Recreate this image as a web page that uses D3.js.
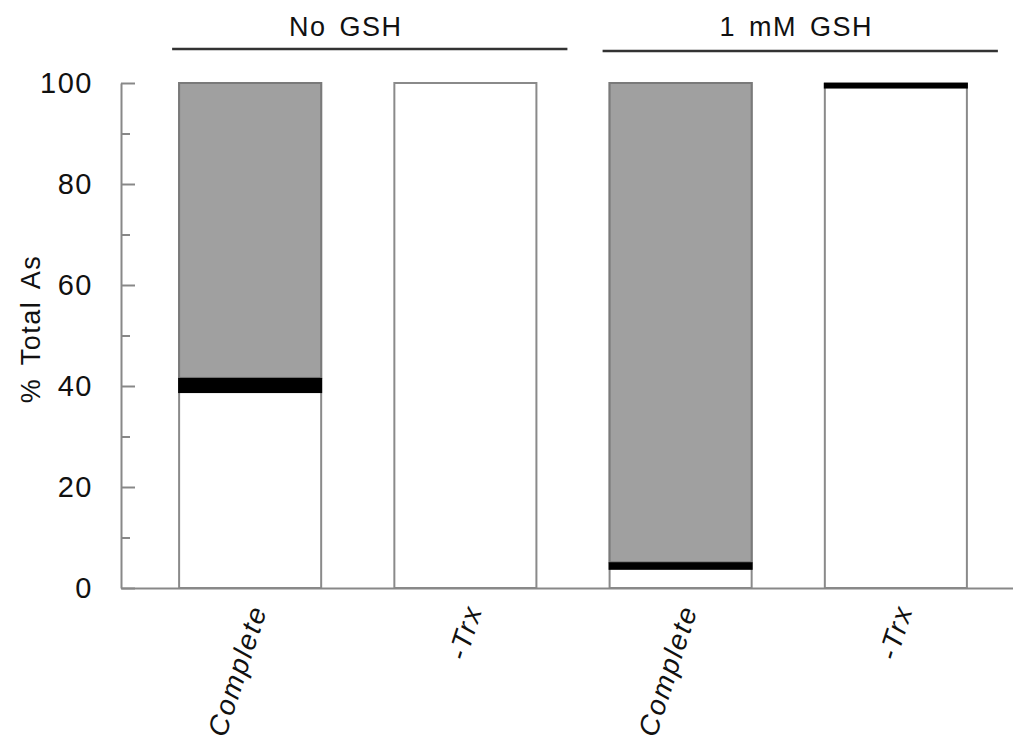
<!DOCTYPE html>
<html>
<head>
<meta charset="utf-8">
<script src="https://cdn.jsdelivr.net/npm/d3@7"></script>
<style>
  body { margin: 0; background: #fff; }
  text { font-family: "Liberation Sans", Arial, sans-serif; fill: #111; }
</style>
</head>
<body>
<script>
// data
const categories = ['Complete', '-Trx', 'Complete', '-Trx'];
const groups = ['No GSH', '1 mM GSH'];
const groupOf = [0, 0, 1, 1];
// stacked from the bottom: white, black, grey
const whitePart = [38.6, 100, 3.6, 98.9];
const blackPart = [3.0, 0, 1.5, 1.1];
const greyPart = [58.4, 0, 94.9, 0];
const yTicks = [0, 20, 40, 60, 80, 100];
const yMinor = [10, 30, 50, 70, 90];

const width = 1013, height = 741;
const svg = d3.select('body').append('svg')
    .attr('width', width)
    .attr('height', height);

const axisX = 121;
const y = d3.scaleLinear().domain([0, 100]).range([588, 83]);
const x = d3.scaleBand()
    .domain(d3.range(categories.length))
    .range([axisX, 1025])
    .paddingInner(0.34)
    .paddingOuter(0.27);

// build the stacks: white, black, grey
const segs = [];
categories.forEach((c, i) => {
    let base = 0;
    const parts = [[whitePart[i], '#fff'], [blackPart[i], '#000'], [greyPart[i], '#a0a0a0']];
    parts.forEach(([v, col]) => {
        if (v > 0) segs.push({ i, y0: base, y1: base + v, col });
        base += v;
    });
});

const g = svg.append('g');

// bar outlines (white body)
g.selectAll('rect.outline')
    .data(categories)
    .enter().append('rect')
    .attr('class', 'outline')
    .attr('x', (d, i) => x(i))
    .attr('width', x.bandwidth())
    .attr('y', (d, i) => y(whitePart[i] + blackPart[i] + greyPart[i]))
    .attr('height', (d, i) => y(0) - y(whitePart[i] + blackPart[i] + greyPart[i]))
    .attr('fill', '#fff')
    .attr('stroke', '#8a8a8a')
    .attr('stroke-width', 2);

// grey segments with their own border
g.selectAll('rect.grey')
    .data(segs.filter(s => s.col === '#a0a0a0'))
    .enter().append('rect')
    .attr('x', d => x(d.i))
    .attr('width', x.bandwidth())
    .attr('y', d => y(d.y1))
    .attr('height', d => y(d.y0) - y(d.y1))
    .attr('fill', d => d.col)
    .attr('stroke', '#7a7a7a')
    .attr('stroke-width', 2);

// black segments on top
g.selectAll('rect.black')
    .data(segs.filter(s => s.col === '#000'))
    .enter().append('rect')
    .attr('x', d => x(d.i) - 1)
    .attr('width', x.bandwidth() + 2)
    .attr('y', d => y(d.y1))
    .attr('height', d => y(d.y0) - y(d.y1))
    .attr('fill', '#000');

// y axis, ticks pointing inwards
const yAxis = g.append('g')
    .attr('transform', `translate(${axisX},0)`)
    .call(d3.axisLeft(y).tickValues(yTicks).tickSizeInner(-14).tickSizeOuter(0).tickPadding(28));
yAxis.select('.domain').attr('stroke', '#888').attr('stroke-width', 2);
yAxis.selectAll('.tick line').attr('stroke', '#888').attr('stroke-width', 2);
yAxis.selectAll('.tick text')
    .style('font-size', '29px')
    .style('letter-spacing', '1.5px')
    .attr('fill', '#111');

const yMinorAxis = g.append('g')
    .attr('transform', `translate(${axisX},0)`)
    .call(d3.axisLeft(y).tickValues(yMinor).tickSizeInner(-9).tickSizeOuter(0).tickFormat(''));
yMinorAxis.select('.domain').remove();
yMinorAxis.selectAll('.tick line').attr('stroke', '#888').attr('stroke-width', 2);

// x axis: baseline + slanted italic labels
const xAxis = g.append('g')
    .attr('transform', `translate(0,${y(0)})`)
    .call(d3.axisBottom(x).tickSize(0).tickFormat(i => categories[i]));
xAxis.select('.domain').attr('stroke', '#888').attr('stroke-width', 2);
xAxis.selectAll('.tick text')
    .attr('y', 0)
    .attr('dy', '0.35em')
    .attr('text-anchor', 'end')
    .attr('transform', 'translate(8,18) rotate(-72)')
    .style('font-size', '28px')
    .style('font-style', 'italic')
    .style('letter-spacing', '2px')
    .attr('fill', '#111');

// group brackets on top
groups.forEach((name, gi) => {
    const idx = d3.range(categories.length).filter(i => groupOf[i] === gi);
    const x0 = x(idx[0]) - 7;
    const x1 = x(idx[idx.length - 1]) + x.bandwidth() + 31;
    const ly = 49 + gi * 2;
    g.append('line')
        .attr('x1', x0).attr('x2', x1)
        .attr('y1', ly).attr('y2', ly)
        .attr('stroke', '#333')
        .attr('stroke-width', 2.5);
    g.append('text')
        .attr('x', (x(idx[0]) + x(idx[idx.length - 1]) + x.bandwidth()) / 2 + (gi === 0 ? -12 : 8))
        .attr('y', 36)
        .attr('text-anchor', 'middle')
        .style('font-size', '27px')
        .style('letter-spacing', '1.5px')
        .style('word-spacing', '4px')
        .text(name);
});

// y axis title
svg.append('text')
    .attr('transform', 'translate(40,329) rotate(-90)')
    .attr('text-anchor', 'middle')
    .style('font-size', '27px')
    .style('letter-spacing', '1.5px')
    .style('word-spacing', '4px')
    .text('% Total As');
</script>
</body>
</html>
